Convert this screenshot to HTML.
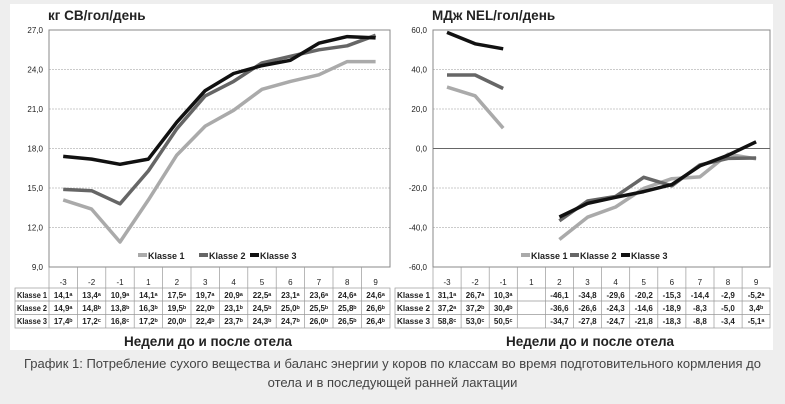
<!DOCTYPE html>
<html><head><meta charset="utf-8"><style>
body{margin:0;background:#eeeeee;width:785px;height:404px;overflow:hidden;font-family:"Liberation Sans",sans-serif}
#card{position:absolute;left:10px;top:4px;width:763px;height:346px;background:#fff}
svg{position:absolute;left:0;top:0}
.cap{position:absolute;left:0;width:785px;top:354px;text-align:center;font-size:13px;line-height:19px;color:#444;font-family:"Liberation Sans","DejaVu Sans",sans-serif}
text{font-family:"Liberation Sans",sans-serif}
.t{font-size:8px;font-weight:bold;fill:#222}
.ax{font-size:8px;fill:#222}
</style></head><body>
<div id="card"></div>
<svg width="785" height="404" viewBox="0 0 785 404">
<g stroke="#bbb" stroke-width="0.7" stroke-dasharray="2,1">
<line x1="49" y1="69.5" x2="390" y2="69.5"/><line x1="49" y1="109" x2="390" y2="109"/><line x1="49" y1="148.5" x2="390" y2="148.5"/><line x1="49" y1="188" x2="390" y2="188"/><line x1="49" y1="227.5" x2="390" y2="227.5"/>
<line x1="433" y1="69.5" x2="770" y2="69.5"/><line x1="433" y1="109" x2="770" y2="109"/><line x1="433" y1="188" x2="770" y2="188"/><line x1="433" y1="227.5" x2="770" y2="227.5"/>
</g>
<g fill="none" stroke="#888" stroke-width="1">
<rect x="49" y="30" width="341" height="237"/>
<rect x="433" y="30" width="337" height="237"/>
<line x1="433" y1="148.5" x2="770" y2="148.5" stroke="#666"/>
</g>
<g stroke="#999" stroke-width="0.7" fill="none">
<rect x="15" y="288" width="375" height="40"/>
<line x1="15" y1="301" x2="390" y2="301"/><line x1="15" y1="314.5" x2="390" y2="314.5"/>
<line x1="49" y1="267" x2="49" y2="328"/>
<path d="M77.4 267V328M105.8 267V328M134.2 267V328M162.6 267V328M191 267V328M219.4 267V328M247.8 267V328M276.2 267V328M304.6 267V328M333 267V328M361.4 267V328"/>
<rect x="395" y="288" width="375" height="40"/>
<line x1="395" y1="301" x2="770" y2="301"/><line x1="395" y1="314.5" x2="770" y2="314.5"/>
<line x1="433" y1="267" x2="433" y2="328"/>
<path d="M461.1 267V328M489.2 267V328M517.3 267V328M545.4 267V328M573.5 267V328M601.6 267V328M629.7 267V328M657.8 267V328M685.9 267V328M714 267V328M742.1 267V328"/>
</g>
<g fill="none" stroke-width="3.5" stroke-linejoin="round">
<polyline stroke="#aaa" points="63.2,199.9 91.6,209.1 120,242 148.4,199.9 176.8,155.1 205.2,126.1 233.6,110.3 262,89.3 290.4,81.4 318.8,74.8 347.2,61.6 375.6,61.6"/>
<polyline stroke="#666" points="63.2,189.4 91.6,190.7 120,203.8 148.4,170.9 176.8,128.8 205.2,95.9 233.6,81.4 262,62.9 290.4,56.3 318.8,49.8 347.2,45.8 375.6,35.3"/>
<polyline stroke="#111" points="63.2,156.4 91.6,159.1 120,164.3 148.4,159.1 176.8,122.2 205.2,90.6 233.6,73.5 262,65.6 290.4,60.3 318.8,43.2 347.2,36.6 375.6,37.9"/>
<polyline stroke="#aaa" points="447,87.1 475.1,95.8 503.2,128.2"/>
<polyline stroke="#aaa" points="559.4,239.5 587.5,217.2 615.6,207 643.7,188.4 671.8,178.7 699.9,176.9 728,154.2 756.1,158.8"/>
<polyline stroke="#666" points="447,75 475.1,75 503.2,88.5"/>
<polyline stroke="#666" points="559.4,220.8 587.5,201 615.6,196.5 643.7,177.3 671.8,185.8 699.9,164.9 728,158.4 756.1,158"/>
<polyline stroke="#111" points="447,32.4 475.1,43.8 503.2,48.8"/>
<polyline stroke="#111" points="559.4,217 587.5,203.4 615.6,197.3 643.7,191.6 671.8,184.6 699.9,165.9 728,155.2 756.1,141.8"/>
</g>
<text x="48" y="20" font-size="13.5" font-weight="bold" fill="#222">кг СВ/гол/день</text>
<text x="432" y="20" font-size="13.5" font-weight="bold" fill="#222">МДж NEL/гол/день</text>
<g class="ax" text-anchor="end">
<text x="43" y="33">27,0</text><text x="43" y="72.5">24,0</text><text x="43" y="112">21,0</text><text x="43" y="151.5">18,0</text><text x="43" y="191">15,0</text><text x="43" y="230.5">12,0</text><text x="43" y="270">9,0</text>
<text x="427" y="33">60,0</text><text x="427" y="72.5">40,0</text><text x="427" y="112">20,0</text><text x="427" y="151.5">0,0</text><text x="427" y="191">-20,0</text><text x="427" y="230.5">-40,0</text><text x="427" y="270">-60,0</text>
</g>
<g font-size="9" font-weight="bold" fill="#222">
<rect x="138" y="253" width="9" height="4" fill="#aaa"/><text x="148" y="259">Klasse 1</text>
<rect x="199" y="253" width="9" height="4" fill="#666"/><text x="209" y="259">Klasse 2</text>
<rect x="250" y="253" width="9" height="4" fill="#111"/><text x="260" y="259">Klasse 3</text>
<rect x="521" y="253" width="9" height="4" fill="#aaa"/><text x="531" y="259">Klasse 1</text>
<rect x="570" y="253" width="9" height="4" fill="#666"/><text x="580" y="259">Klasse 2</text>
<rect x="621" y="253" width="9" height="4" fill="#111"/><text x="631" y="259">Klasse 3</text>
</g>
<g class="ax" text-anchor="middle">
<text x="63.2" y="285">-3</text><text x="91.6" y="285">-2</text><text x="120" y="285">-1</text><text x="148.4" y="285">1</text><text x="176.8" y="285">2</text><text x="205.2" y="285">3</text><text x="233.6" y="285">4</text><text x="262" y="285">5</text><text x="290.4" y="285">6</text><text x="318.8" y="285">7</text><text x="347.2" y="285">8</text><text x="375.6" y="285">9</text>
<text x="447" y="285">-3</text><text x="475.1" y="285">-2</text><text x="503.2" y="285">-1</text><text x="531.3" y="285">1</text><text x="559.4" y="285">2</text><text x="587.5" y="285">3</text><text x="615.6" y="285">4</text><text x="643.7" y="285">5</text><text x="671.8" y="285">6</text><text x="699.9" y="285">7</text><text x="728" y="285">8</text><text x="756.1" y="285">9</text>
</g>
<g class="t">
<text x="17" y="298" textLength="30" lengthAdjust="spacingAndGlyphs">Klasse 1</text><text x="17" y="311" textLength="30" lengthAdjust="spacingAndGlyphs">Klasse 2</text><text x="17" y="324" textLength="30" lengthAdjust="spacingAndGlyphs">Klasse 3</text>
<text x="397" y="298" textLength="33" lengthAdjust="spacingAndGlyphs">Klasse 1</text><text x="397" y="311" textLength="33" lengthAdjust="spacingAndGlyphs">Klasse 2</text><text x="397" y="324" textLength="33" lengthAdjust="spacingAndGlyphs">Klasse 3</text>
</g>
<g class="t" text-anchor="middle">
<text x="63.2" y="298">14,1ᵃ</text><text x="91.6" y="298">13,4ᵃ</text><text x="120" y="298">10,9ᵃ</text><text x="148.4" y="298">14,1ᵃ</text><text x="176.8" y="298">17,5ᵃ</text><text x="205.2" y="298">19,7ᵃ</text><text x="233.6" y="298">20,9ᵃ</text><text x="262" y="298">22,5ᵃ</text><text x="290.4" y="298">23,1ᵃ</text><text x="318.8" y="298">23,6ᵃ</text><text x="347.2" y="298">24,6ᵃ</text><text x="375.6" y="298">24,6ᵃ</text>
<text x="63.2" y="311">14,9ᵃ</text><text x="91.6" y="311">14,8ᵇ</text><text x="120" y="311">13,8ᵇ</text><text x="148.4" y="311">16,3ᵇ</text><text x="176.8" y="311">19,5ᵇ</text><text x="205.2" y="311">22,0ᵇ</text><text x="233.6" y="311">23,1ᵇ</text><text x="262" y="311">24,5ᵇ</text><text x="290.4" y="311">25,0ᵇ</text><text x="318.8" y="311">25,5ᵇ</text><text x="347.2" y="311">25,8ᵇ</text><text x="375.6" y="311">26,6ᵇ</text>
<text x="63.2" y="324">17,4ᵇ</text><text x="91.6" y="324">17,2ᶜ</text><text x="120" y="324">16,8ᶜ</text><text x="148.4" y="324">17,2ᵇ</text><text x="176.8" y="324">20,0ᵇ</text><text x="205.2" y="324">22,4ᵇ</text><text x="233.6" y="324">23,7ᵇ</text><text x="262" y="324">24,3ᵇ</text><text x="290.4" y="324">24,7ᵇ</text><text x="318.8" y="324">26,0ᵇ</text><text x="347.2" y="324">26,5ᵇ</text><text x="375.6" y="324">26,4ᵇ</text>
<text x="447" y="298">31,1ᵃ</text><text x="475.1" y="298">26,7ᵃ</text><text x="503.2" y="298">10,3ᵃ</text><text x="559.4" y="298">-46,1</text><text x="587.5" y="298">-34,8</text><text x="615.6" y="298">-29,6</text><text x="643.7" y="298">-20,2</text><text x="671.8" y="298">-15,3</text><text x="699.9" y="298">-14,4</text><text x="728" y="298">-2,9</text><text x="756.1" y="298">-5,2ᵃ</text>
<text x="447" y="311">37,2ᵃ</text><text x="475.1" y="311">37,2ᵇ</text><text x="503.2" y="311">30,4ᵇ</text><text x="559.4" y="311">-36,6</text><text x="587.5" y="311">-26,6</text><text x="615.6" y="311">-24,3</text><text x="643.7" y="311">-14,6</text><text x="671.8" y="311">-18,9</text><text x="699.9" y="311">-8,3</text><text x="728" y="311">-5,0</text><text x="756.1" y="311">3,4ᵇ</text>
<text x="447" y="324">58,8ᶜ</text><text x="475.1" y="324">53,0ᶜ</text><text x="503.2" y="324">50,5ᶜ</text><text x="559.4" y="324">-34,7</text><text x="587.5" y="324">-27,8</text><text x="615.6" y="324">-24,7</text><text x="643.7" y="324">-21,8</text><text x="671.8" y="324">-18,3</text><text x="699.9" y="324">-8,8</text><text x="728" y="324">-3,4</text><text x="756.1" y="324">-5,1ᵃ</text>
</g>
<g font-size="13.5" font-weight="bold" fill="#222" text-anchor="middle">
<text x="208" y="346">Недели до и после отела</text>
<text x="590" y="346">Недели до и после отела</text>
</g>
</svg>
<div class="cap">График 1: Потребление сухого вещества и баланс энергии у коров по классам во время подготовительного кормления до<br>отела и в последующей ранней лактации</div>
</body></html>
